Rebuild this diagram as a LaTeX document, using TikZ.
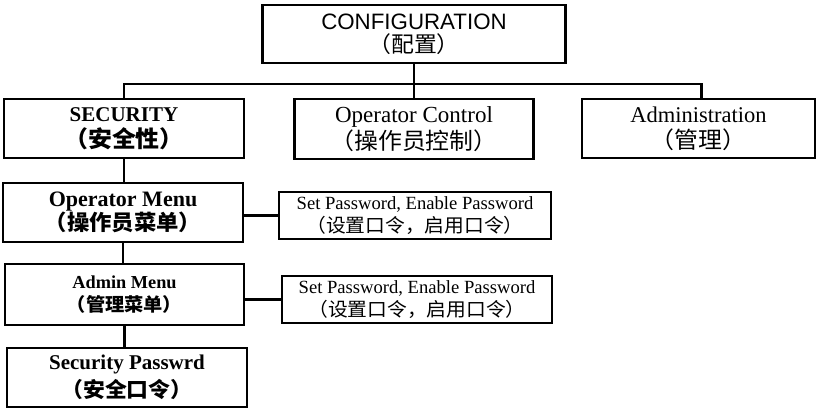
\documentclass[tikz,border=0pt]{standalone}
\usepackage{fontspec}
\setmainfont{Liberation Serif}
\newfontfamily\arialf{Liberation Sans}
\newfontfamily\cjk{Noto Sans CJK SC}[FakeStretch=1.04]
\begin{document}
\begin{tikzpicture}[x=1pt,y=-1pt,
  box/.style={draw=black,line width=2.4pt,inner sep=0pt,align=center,
    minimum width=#1},
  conn/.style={draw=black,line width=2.4pt}]
\useasboundingbox (0,0) rectangle (817,409);
\fill[white] (0,0) rectangle (817,409);
% top
\node[box=303pt,minimum height=58pt,font=\arialf\fontsize{22.3}{23}\selectfont] (config) at (414,34)
  {CONFIGURATION\\{\cjk\fontsize{22}{23}\selectfont （配置）}};
\node[box=240pt,minimum height=59pt,font=\bfseries\fontsize{21}{26}\selectfont] (security) at (124,128.5)
  {SECURITY\\{\cjk\bfseries\fontsize{23}{26}\selectfont （安全性）}};
\node[box=239pt,minimum height=60pt,font=\fontsize{23}{27}\selectfont] (opctrl) at (414,129)
  {Operator Control\\{\cjk\fontsize{23}{27}\selectfont （操作员控制）}};
\node[box=233pt,minimum height=59pt,font=\fontsize{22.5}{26}\selectfont] (admin) at (698.5,128.5)
  {Administration\\{\cjk\fontsize{23}{26}\selectfont （管理）}};
% left column
\node[box=240pt,minimum height=59pt,font=\bfseries\fontsize{22}{24}\selectfont] (opmenu) at (123,212.5)
  {Operator Menu\\{\cjk\bfseries\fontsize{21.5}{24}\selectfont （操作员菜单）}};
\node[box=239pt,minimum height=61pt,font=\bfseries\fontsize{18.3}{23}\selectfont] (adminmenu) at (124.5,294.5)
  {Admin Menu\\{\cjk\bfseries\fontsize{18.5}{23}\selectfont （管理菜单）}};
\node[box=240pt,minimum height=59pt,font=\bfseries\fontsize{21}{28}\selectfont] (secpw) at (127,377.5)
  {Security Passwrd\\{\cjk\bfseries\fontsize{21}{28}\selectfont （安全口令）}};
% side boxes
\node[box=272pt,minimum height=47pt,font=\fontsize{18.6}{23}\selectfont] (set1) at (415,215.5)
  {Set Password, Enable Password\\{\cjk\fontsize{19}{23}\selectfont （设置口令，启用口令）}};
\node[box=270pt,minimum height=47pt,font=\fontsize{18.6}{23}\selectfont] (set2) at (417,299.5)
  {Set Password, Enable Password\\{\cjk\fontsize{19}{23}\selectfont （设置口令，启用口令）}};
% connectors
\coordinate (bus) at (414,84);
\draw[conn] (config.south) -- (opctrl.north);
\draw[conn] (security.north) |- (bus) -| ([xshift=3pt]admin.north);
\draw[conn] (security.south) -- (security.south |- opmenu.north);
\draw[conn] (opmenu.south) -- (opmenu.south |- adminmenu.north);
\draw[conn] (adminmenu.south) -- (adminmenu.south |- secpw.north);
\draw[conn] (set1.west -| opmenu.east) -- (set1.west);
\draw[conn] (set2.west -| adminmenu.east) -- (set2.west);
\end{tikzpicture}
\end{document}
